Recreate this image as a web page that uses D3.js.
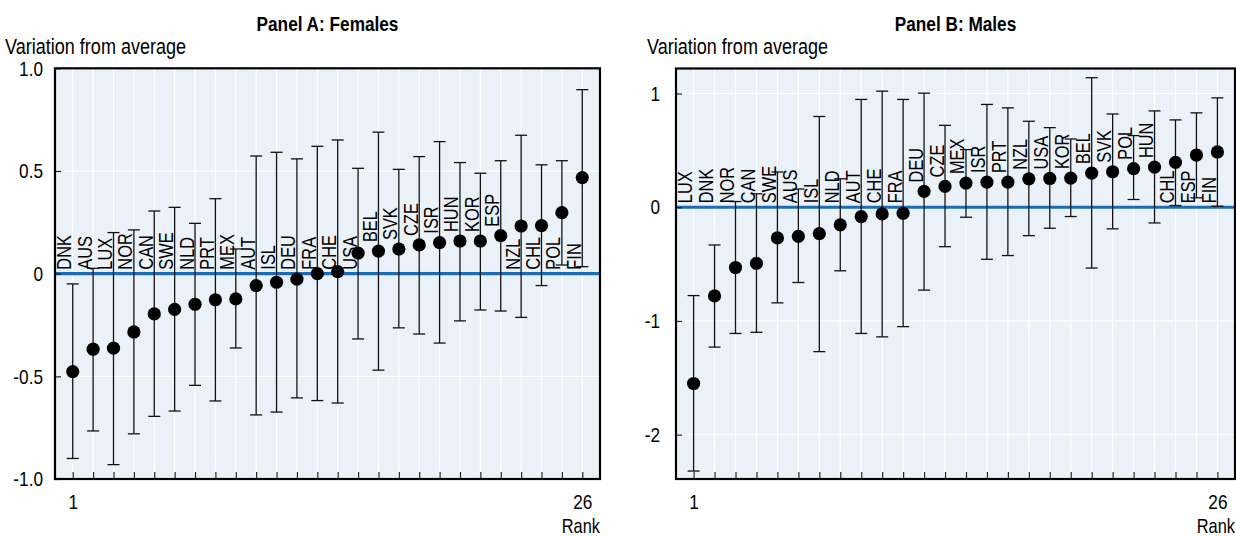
<!DOCTYPE html>
<html><head><meta charset="utf-8">
<script src="https://cdn.jsdelivr.net/npm/d3@7"></script>
<style>
html,body{margin:0;padding:0;background:#fff;}
svg{display:block;}
text{font-family:"Liberation Sans",Arial,Helvetica,sans-serif;fill:#000;}
</style></head><body>
<svg id="chart" width="1236" height="536"></svg>
<script>
// ---------- data ----------
const titleA = "Panel A: Females";
const titleB = "Panel B: Males";
const yTitle = "Variation from average";
const xTitle = "Rank";

const countriesA = ["DNK","AUS","LUX","NOR","CAN","SWE","NLD","PRT","MEX","AUT","ISL","DEU","FRA","CHE","USA","BEL","SVK","CZE","ISR","HUN","KOR","ESP","NZL","CHL","POL","FIN"];
const valuesA = [-0.477,-0.368,-0.363,-0.284,-0.196,-0.174,-0.149,-0.127,-0.123,-0.058,-0.042,-0.027,0.0,0.01,0.10,0.11,0.12,0.14,0.151,0.159,0.159,0.185,0.232,0.234,0.297,0.468];
const lowerA = [-0.90,-0.766,-0.93,-0.78,-0.695,-0.669,-0.544,-0.62,-0.362,-0.688,-0.674,-0.605,-0.618,-0.63,-0.318,-0.47,-0.264,-0.294,-0.338,-0.23,-0.177,-0.182,-0.213,-0.058,0.042,0.034];
const upperA = [-0.05,0.026,0.20,0.213,0.305,0.323,0.245,0.365,0.12,0.573,0.591,0.559,0.62,0.651,0.513,0.689,0.508,0.57,0.643,0.541,0.489,0.55,0.674,0.53,0.55,0.896];

const countriesB = ["LUX","DNK","NOR","CAN","SWE","AUS","ISL","NLD","AUT","CHE","FRA","DEU","CZE","MEX","ISR","PRT","NZL","USA","KOR","BEL","SVK","POL","HUN","CHL","ESP","FIN"];
const valuesB = [-1.55,-0.78,-0.53,-0.494,-0.27,-0.256,-0.232,-0.155,-0.082,-0.059,-0.053,0.139,0.183,0.212,0.221,0.221,0.25,0.253,0.256,0.30,0.312,0.339,0.353,0.395,0.459,0.486];
const lowerB = [-2.32,-1.23,-1.11,-1.10,-0.841,-0.662,-1.27,-0.559,-1.11,-1.14,-1.05,-0.729,-0.347,-0.088,-0.458,-0.425,-0.25,-0.185,-0.082,-0.535,-0.19,0.068,-0.138,0.015,0.083,0.009];
const upperB = [-0.777,-0.332,0.05,0.118,0.31,0.16,0.798,0.25,0.948,1.021,0.948,1.003,0.72,0.507,0.904,0.874,0.756,0.70,0.60,1.139,0.82,0.63,0.847,0.768,0.83,0.962];

const yTicksA = [-1, -0.5, 0, 0.5, 1];
const yTickLabelsA = ["-1.0", "-0.5", "0", "0.5", "1.0"];
const yTicksB = [-2, -1, 0, 1];
const yTickLabelsB = ["-2", "-1", "0", "1"];
const xLabelRanks = [1, 26];

// ---------- drawing ----------
const svg = d3.select("#chart");
const BG = "#eaf1f8", ZERO = "#1a6db5";
const SX = 0.82; // condensed look (narrow face emulation)

function narrowText(parent, x, y, str, size, anchor, weight) {
  const t = parent.append("text")
    .attr("transform", `translate(${x},${y}) scale(${SX},1)`)
    .attr("font-size", size).attr("text-anchor", anchor || "start").text(str);
  if (weight) t.attr("font-weight", weight);
  return t;
}

function drawPanel(cfg) {
  const {left, right, top, bottom, xDom, yDom, countries, values, lower, upper,
         yTicks, yTickLabels, title, tickPad, titleX} = cfg;
  const n = countries.length;
  const ranks = d3.range(1, n + 1);
  const x = d3.scaleLinear().domain(xDom).range([left, right]);
  const y = d3.scaleLinear().domain(yDom).range([bottom, top]);
  const g = svg.append("g");

  g.append("rect").attr("x", left).attr("y", top)
    .attr("width", right - left).attr("height", bottom - top).attr("fill", BG);

  // grid
  g.selectAll(".vg").data(ranks).join("line")
    .attr("x1", d => x(d)).attr("x2", d => x(d)).attr("y1", top).attr("y2", bottom)
    .attr("stroke", "#fff").attr("stroke-width", 1.2);
  g.selectAll(".hg").data(yTicks).join("line")
    .attr("x1", left).attr("x2", right).attr("y1", d => y(d)).attr("y2", d => y(d))
    .attr("stroke", "#fff").attr("stroke-width", 1.2);

  // zero line
  g.append("line").attr("x1", left).attr("x2", right).attr("y1", y(0)).attr("y2", y(0))
    .attr("stroke", ZERO).attr("stroke-width", 3.2);

  // x ticks (inside)
  const xAxis = d3.axisBottom(x).tickValues(ranks)
    .tickFormat(d => xLabelRanks.includes(d) ? String(d) : "")
    .tickSizeInner(-7).tickSizeOuter(0).tickPadding(15);
  const xa = g.append("g").attr("transform", `translate(0,${bottom})`).call(xAxis);
  xa.select(".domain").remove();
  xa.selectAll(".tick line").attr("stroke", "#222").attr("stroke-width", 1.2);
  xa.selectAll(".tick text").attr("font-size", 21).attr("font-family", null)
    .style("fill", "#000").attr("transform", `scale(${SX},1)`);

  // y ticks (inside)
  const yAxis = d3.axisLeft(y).tickValues(yTicks)
    .tickFormat((d, i) => yTickLabels[i])
    .tickSizeInner(-6).tickSizeOuter(0).tickPadding(tickPad);
  const ya = g.append("g").attr("transform", `translate(${left},0)`).call(yAxis);
  ya.select(".domain").remove();
  ya.selectAll(".tick line").attr("stroke", "#222").attr("stroke-width", 1.2);
  ya.selectAll(".tick text").attr("font-size", 21).attr("font-family", null)
    .style("fill", "#000").attr("x", -tickPad / SX).attr("transform", `scale(${SX},1)`);

  // error bars
  const cap = 6;
  g.selectAll(".eb").data(ranks).join("line")
    .attr("x1", d => x(d)).attr("x2", d => x(d))
    .attr("y1", (d, i) => y(lower[i])).attr("y2", (d, i) => y(upper[i]))
    .attr("stroke", "#111").attr("stroke-width", 1.3);
  g.selectAll(".cl").data(ranks).join("line")
    .attr("x1", d => x(d) - cap).attr("x2", d => x(d) + cap)
    .attr("y1", (d, i) => y(lower[i])).attr("y2", (d, i) => y(lower[i]))
    .attr("stroke", "#111").attr("stroke-width", 1.3);
  g.selectAll(".cu").data(ranks).join("line")
    .attr("x1", d => x(d) - cap).attr("x2", d => x(d) + cap)
    .attr("y1", (d, i) => y(upper[i])).attr("y2", (d, i) => y(upper[i]))
    .attr("stroke", "#111").attr("stroke-width", 1.3);

  // country labels (vertical, left of their bar)
  const r = 6.6;
  const zeroY = y(0);
  ranks.forEach((rk, i) => {
    const t = g.append("text").attr("font-size", 20).text(countries[i]);
    const len = t.node().getComputedTextLength() * SX;
    const dy = y(values[i]);
    let b;
    if (values[i] < 0.105) b = zeroY - 4;
    else if ((zeroY - 4) - (dy + r) >= len) b = zeroY - 4;
    else b = dy - 9;
    t.attr("transform", `translate(${x(rk) - 1.5},${b}) rotate(-90) scale(${SX},1)`);
  });

  // dots
  g.selectAll(".dot").data(ranks).join("circle")
    .attr("cx", d => x(d)).attr("cy", (d, i) => y(values[i])).attr("r", r)
    .attr("fill", "#000");

  // frame
  g.append("rect").attr("x", left).attr("y", top)
    .attr("width", right - left).attr("height", bottom - top)
    .attr("fill", "none").attr("stroke", "#000").attr("stroke-width", 2.2);

  // titles
  narrowText(g, (left + right) / 2, 31, title, 21, "middle", "bold");
  narrowText(g, titleX, 54, yTitle, 22, "start");
  narrowText(g, right, 533, xTitle, 20, "end");
}

drawPanel({left: 55, right: 600, top: 68.3, bottom: 479, xDom: [0.13, 26.87], yDom: [-1, 1],
  countries: countriesA, values: valuesA, lower: lowerA, upper: upperA,
  yTicks: yTicksA, yTickLabels: yTickLabelsA, title: titleA, tickPad: 12, titleX: 5});
drawPanel({left: 676, right: 1235, top: 68.5, bottom: 479, xDom: [0.16, 26.84], yDom: [-2.39, 1.22],
  countries: countriesB, values: valuesB, lower: lowerB, upper: upperB,
  yTicks: yTicksB, yTickLabels: yTickLabelsB, title: titleB, tickPad: 16, titleX: 647});
</script>
</body></html>
